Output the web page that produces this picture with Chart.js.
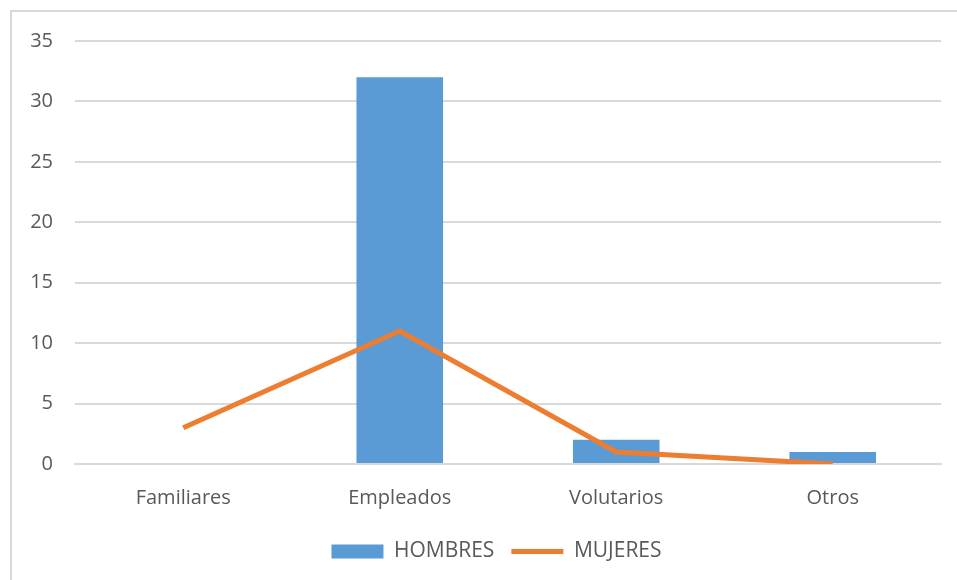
<!DOCTYPE html>
<html>
<head>
<meta charset="utf-8">
<script src="https://cdn.jsdelivr.net/npm/chart.js@4"></script>
<style>
  body { margin: 0; background: #fff; }
  #frame {
    position: absolute; left: 10px; top: 10px;
    width: 947px; height: 570px;
    border-top: 2px solid #d9d9d9; border-left: 2px solid #d9d9d9;
  }
  #chart { display: block; }
</style>
</head>
<body>
<div id="frame"><canvas id="chart" width="945" height="568"></canvas></div>
<script>
const categories = ["Familiares", "Empleados", "Volutarios", "Otros"];
const hombres = [0, 32, 2, 1];
const mujeres = [3, 11, 1, 0];
const yTicks = { min: 0, max: 35, step: 5 };

const txtColor = "#595959";
const gridColor = "#d9d9d9";
const fontFamily = "'Open Sans', 'Noto Sans', sans-serif";

// legend sits a bit right of centre in the original
const shiftLegend = {
  id: "shiftLegend",
  afterLayout(chart) {
    chart.legend.left += 20;
    chart.legend.right += 20;
  },
};

const ctx = document.getElementById("chart").getContext("2d");
new Chart(ctx, {
  type: "bar",
  data: {
    labels: categories,
    datasets: [
      {
        label: "MUJERES",
        type: "line",
        data: mujeres,
        borderColor: "#ed7d31",
        backgroundColor: "#ed7d31",
        borderWidth: 5,
        pointRadius: 0,
        pointStyle: "line",
        tension: 0,
        order: 0,
      },
      {
        label: "HOMBRES",
        data: hombres,
        backgroundColor: "#5b9bd5",
        borderWidth: 0,
        pointStyle: "rect",
        categoryPercentage: 1,
        barPercentage: 0.4,
        order: 1,
      },
    ],
  },
  plugins: [shiftLegend],
  options: {
    responsive: false,
    animation: false,
    layout: { padding: { top: 29, right: 16, bottom: 8, left: 0 } },
    plugins: {
      tooltip: { enabled: false },
      legend: {
        position: "bottom",
        reverse: true,
        labels: {
          usePointStyle: true,
          pointStyleWidth: 52,
          boxHeight: 14,
          padding: 17,
          color: txtColor,
          font: { family: fontFamily, size: 21 },
        },
      },
    },
    scales: {
      x: {
        grid: { display: false },
        border: { color: gridColor, width: 2 },
        ticks: { color: txtColor, font: { family: fontFamily, size: 20 }, padding: 14 },
      },
      y: {
        min: yTicks.min,
        max: yTicks.max,
        afterFit: (scale) => {
          scale.width = 63;
          scale.paddingTop = 0;
        },
        grid: { color: gridColor, lineWidth: 2, drawTicks: false },
        border: { display: false },
        ticks: {
          stepSize: yTicks.step,
          color: txtColor,
          padding: 22,
          font: { family: fontFamily, size: 20 },
        },
      },
    },
  },
});
</script>
</body>
</html>
